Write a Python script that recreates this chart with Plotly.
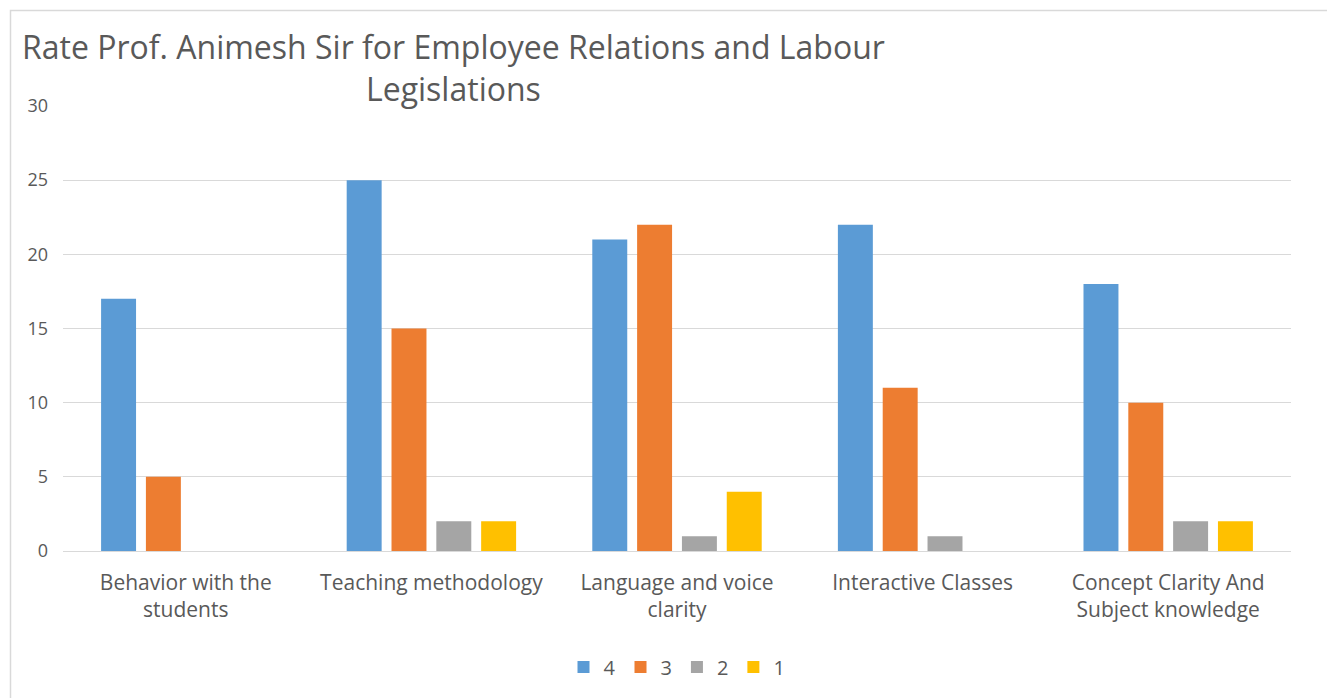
import plotly.graph_objects as go

categories = ["Behavior with the<br>students", "Teaching methodology", "Language and voice<br>clarity",
              "Interactive Classes", "Concept Clarity And<br>Subject knowledge"]
series_names = ["4", "3", "2", "1"]
s4 = [17, 25, 21, 22, 18]
s3 = [5, 15, 22, 11, 10]
s2 = [0, 2, 1, 1, 2]
s1 = [0, 2, 4, 0, 2]
y_ticks = [0, 5, 10, 15, 20, 25, 30]
colors = ["#5B9BD5", "#ED7D31", "#A5A5A5", "#FFC000"]

# the page body has an 8px margin; lay out in page pixels and shift
OFF = 8
W, H = 1335 - OFF, 698 - OFF
L, R, T, B = 63 - OFF, 1291 - OFF, 106 - OFF, 551 - OFF

fig = go.Figure()
for name, vals, c in zip(series_names, [s4, s3, s2, s1], colors):
    fig.add_trace(go.Bar(x=categories, y=vals, name=name, marker=dict(color=c, line=dict(width=0))))

def px_x(p):
    return (p - OFF - L) / (R - L)

def px_y(p):
    return (B - (p - OFF)) / (B - T)

font_family = "Open Sans, Liberation Sans, sans-serif"
fig.update_layout(
    width=W, height=H, autosize=False,
    margin=dict(l=L, r=W - R, t=T, b=H - B, pad=0),
    paper_bgcolor="white", plot_bgcolor="white",
    barmode="group", bargap=0.27, bargroupgap=0.22,
    font=dict(family=font_family, color="#595959", size=18),
    xaxis=dict(showgrid=False, showline=False, zeroline=False, ticks="",
               tickfont=dict(size=21, color="#595959"), ticklabelstandoff=17),
    yaxis=dict(range=[0, 30], tickvals=y_ticks, showgrid=True, gridcolor="#D9D9D9", gridwidth=1,
               zeroline=True, zerolinecolor="#D9D9D9", zerolinewidth=1, showline=False, ticks="",
               tickfont=dict(size=18, color="#595959"), ticklabelstandoff=14),
    showlegend=True,
    legend=dict(orientation="h", x=0.5, xanchor="center", y=px_y(667), yanchor="middle",
                font=dict(size=20, color="#595959"), itemwidth=30, traceorder="normal"),
    annotations=[dict(text="Rate Prof. Animesh Sir for Employee Relations and Labour<br>Legislations",
                      xref="paper", yref="paper", x=px_x(454), y=px_y(67), xanchor="center", yanchor="middle",
                      align="center", showarrow=False, font=dict(size=32, color="#595959", family=font_family))],
    shapes=[dict(type="rect", xref="paper", yref="paper", x0=px_x(10.5), x1=px_x(1331), y0=px_y(710), y1=px_y(10.5),
                 line=dict(color="#D9D9D9", width=1.5), fillcolor="rgba(0,0,0,0)", layer="below")],
)

fig.write_html("out.html")
